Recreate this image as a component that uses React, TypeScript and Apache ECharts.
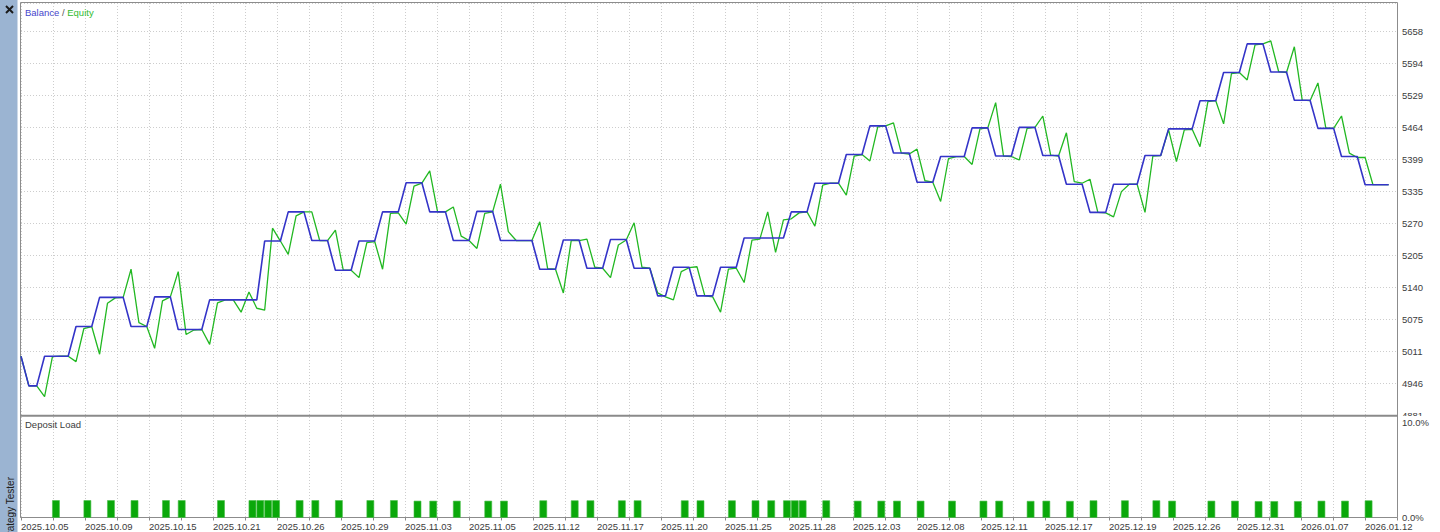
import React, { useEffect, useRef } from "react";
import * as echarts from "echarts";

// ---- tick labels ----
const xLabels = [
  "2025.10.05", "2025.10.09", "2025.10.15", "2025.10.21", "2025.10.26", "2025.10.29",
  "2025.11.03", "2025.11.05", "2025.11.12", "2025.11.17", "2025.11.20", "2025.11.25",
  "2025.11.28", "2025.12.03", "2025.12.08", "2025.12.11", "2025.12.17", "2025.12.19",
  "2025.12.26", "2025.12.31", "2026.01.07", "2026.01.12",
];
const yTickLabels = ["4881", "4946", "5011", "5075", "5140", "5205", "5270", "5335", "5399", "5464", "5529", "5594", "5658"];
const loadTickLabels = ["0.0%", "10.0%"];

// ---- series (one value per deal index) ----
const balance = [
  5000, 4940, 4940, 5000, 5000, 5000, 5000, 5060, 5060, 5060,
  5119, 5119, 5119, 5119, 5060, 5060, 5060, 5120, 5120, 5120,
  5054, 5054, 5054, 5054, 5114, 5114, 5114, 5114, 5114, 5114,
  5114, 5233, 5233, 5233, 5292, 5292, 5292, 5234, 5234, 5234,
  5174, 5174, 5174, 5233, 5233, 5233, 5292, 5292, 5292, 5351,
  5351, 5351, 5292, 5292, 5292, 5234, 5234, 5234, 5293, 5293,
  5293, 5234, 5234, 5234, 5234, 5234, 5176, 5176, 5176, 5235,
  5235, 5235, 5178, 5178, 5178, 5236, 5236, 5236, 5178, 5178,
  5178, 5122, 5122, 5180, 5180, 5180, 5122, 5122, 5122, 5180,
  5180, 5180, 5239, 5239, 5239, 5239, 5239, 5239, 5292, 5292,
  5292, 5350, 5350, 5350, 5350, 5408, 5408, 5408, 5466, 5466,
  5466, 5411, 5411, 5411, 5352, 5352, 5352, 5404, 5404, 5404,
  5404, 5462, 5462, 5462, 5405, 5405, 5405, 5463, 5463, 5463,
  5406, 5406, 5406, 5348, 5348, 5348, 5291, 5291, 5291, 5348,
  5348, 5348, 5348, 5406, 5406, 5406, 5460, 5460, 5460, 5460,
  5517, 5517, 5517, 5574, 5574, 5574, 5632, 5632, 5632, 5575,
  5575, 5575, 5518, 5518, 5518, 5461, 5461, 5461, 5404, 5404,
  5404, 5347, 5347, 5347, 5347,
];
const equity = [
  5000, 4940, 4940, 4918, 4999, 5000, 5000, 4989, 5056, 5060,
  5004, 5107, 5118, 5119, 5176, 5068, 5060, 5016, 5112, 5120,
  5171, 5044, 5053, 5054, 5024, 5108, 5114, 5114, 5089, 5130,
  5097, 5093, 5259, 5233, 5206, 5284, 5292, 5292, 5234, 5234,
  5255, 5174, 5174, 5159, 5230, 5232, 5176, 5289, 5290, 5267,
  5344, 5350, 5375, 5292, 5292, 5302, 5243, 5234, 5218, 5289,
  5292, 5348, 5252, 5234, 5234, 5234, 5272, 5177, 5176, 5128,
  5234, 5234, 5237, 5180, 5178, 5159, 5225, 5235, 5270, 5180,
  5178, 5128, 5120, 5114, 5171, 5179, 5181, 5122, 5120, 5089,
  5176, 5178, 5149, 5235, 5237, 5292, 5210, 5276, 5278, 5290,
  5292, 5263, 5346, 5350, 5350, 5326, 5405, 5408, 5395, 5464,
  5466, 5472, 5411, 5409, 5419, 5355, 5352, 5313, 5400, 5404,
  5404, 5388, 5460, 5462, 5513, 5405, 5404, 5397, 5461, 5463,
  5486, 5407, 5405, 5452, 5353, 5350, 5358, 5291, 5290, 5282,
  5333, 5348, 5348, 5291, 5405, 5406, 5458, 5394, 5458, 5459,
  5424, 5515, 5517, 5470, 5572, 5574, 5559, 5630, 5632, 5638,
  5576, 5574, 5626, 5518, 5517, 5553, 5462, 5461, 5486, 5411,
  5402, 5402, 5347, 5347, 5347,
];
const loadIndex = [
  4, 8, 11, 14, 18, 20, 25, 29, 30, 31, 32, 35, 37, 40, 44, 47,
  50, 52, 55, 59, 61, 66, 70, 72, 76, 78, 84, 86, 90, 93, 95, 97, 98, 99, 102,
  106, 109, 111, 114, 118, 122, 124, 128, 130, 133, 136, 140, 144, 146,
  151, 154, 157, 159, 162, 165, 168, 171,
];
const loadValue = [
  1.78, 1.78, 1.78, 1.78, 1.78, 1.78, 1.78, 1.78, 1.78, 1.78, 1.78, 1.78, 1.78, 1.78, 1.78, 1.78,
  1.72, 1.72, 1.72, 1.72, 1.72, 1.76, 1.76, 1.76, 1.76, 1.76, 1.76, 1.76, 1.76, 1.76, 1.76, 1.76, 1.76, 1.76, 1.76,
  1.72, 1.72, 1.72, 1.72, 1.72, 1.72, 1.72, 1.7, 1.72, 1.7, 1.76, 1.76, 1.76, 1.72,
  1.72, 1.72, 1.68, 1.68, 1.68, 1.72, 1.72, 1.76,
];

// ---- axis ranges ----
const Y_MIN = 4881;
const Y_STEP = 64.75;
const Y_UNITS = 12.875; // plot height in label steps
const Y_MAX = Y_MIN + Y_UNITS * Y_STEP;
const X_MAX = 175.06; // deal-index span of the plot
const X_UNITS = 43; // vertical grid divisions
const LOAD_MAX = 10.53;

const FONT = "'Liberation Sans', Arial, sans-serif";
const TXT = "#3c3c3c";
const GRIDC = "#cdcdcd";
const BLUE = "#3434c8";
const GREEN = "#22b822";
const BAR = "#0aa80a";

export default function App() {
  const ref = useRef<HTMLDivElement | null>(null);

  useEffect(() => {
    if (!ref.current) return;
    const chart = echarts.init(ref.current, undefined, { renderer: "svg" });
    const split = { show: true, lineStyle: { color: GRIDC, width: 1, type: [1, 2] as any } };

    const option: any = {
      animation: false,
      backgroundColor: "#ffffff",
      textStyle: { fontFamily: FONT },
      grid: [
        { left: 21, top: 3, width: 1376, height: 412 },
        { left: 21, top: 417, width: 1376, height: 100.5 },
      ],
      xAxis: [
        { gridIndex: 0, type: "value", min: 0, max: X_MAX, show: false, position: "top" },
        {
          gridIndex: 0, type: "value", min: 0, max: X_UNITS, interval: 1, position: "bottom",
          axisLine: { show: false }, axisTick: { show: false }, axisLabel: { show: false },
          splitLine: split,
        },
        { gridIndex: 1, type: "value", min: 0, max: X_MAX, show: false, position: "top" },
        {
          gridIndex: 1, type: "value", min: 0, max: X_UNITS, interval: 1, position: "bottom",
          axisLine: { show: true, lineStyle: { color: "#8a8a8a", width: 1 } },
          axisTick: { show: true, length: 3, lineStyle: { color: "#8a8a8a" } },
          axisLabel: {
            show: true, margin: 4, align: "left", color: TXT, fontSize: 9.5, fontFamily: FONT,
            formatter: (v: number) => (v % 2 === 0 ? xLabels[v / 2] ?? "" : ""),
          },
          splitLine: split,
        },
      ],
      yAxis: [
        { gridIndex: 0, type: "value", min: Y_MIN, max: Y_MAX, show: false, position: "left" },
        {
          gridIndex: 0, type: "value", min: 0, max: Y_UNITS, interval: 1, position: "right",
          axisLine: { show: false }, axisTick: { show: false },
          axisLabel: {
            margin: 5, color: TXT, fontSize: 9.5, fontFamily: FONT,
            formatter: (v: number) => yTickLabels[v] ?? "",
          },
          splitLine: split,
        },
        {
          gridIndex: 1, type: "value", min: 0, max: LOAD_MAX, interval: 10, position: "right", z: 10,
          axisLine: { show: false }, axisTick: { show: false }, splitLine: { show: false },
          axisLabel: {
            margin: 5, color: TXT, fontSize: 9.5, fontFamily: FONT,
            formatter: (v: number) => loadTickLabels[v / 10] ?? "",
          },
        },
      ],
      graphic: [
        { type: "rect", z: 1, shape: { x: 0, y: 0, width: 17.5, height: 532 }, style: { fill: "#9bb4d2" } },
        { type: "line", z: 2, shape: { x1: 6, y1: 6, x2: 13, y2: 13 }, style: { stroke: "#1a1a1a", lineWidth: 2 } },
        { type: "line", z: 2, shape: { x1: 13, y1: 6, x2: 6, y2: 13 }, style: { stroke: "#1a1a1a", lineWidth: 2 } },
        {
          type: "text", z: 2, x: 10.5, y: 477, rotation: Math.PI / 2,
          style: { text: "Strategy Tester", align: "right", verticalAlign: "middle", fontSize: 10, fontFamily: FONT, fill: "#202020" },
        },
        { type: "rect", z: 1, shape: { x: 20.5, y: 2.5, width: 1377, height: 515 }, style: { fill: "none", stroke: "#8c8c8c", lineWidth: 1 } },
        { type: "rect", z: 6, shape: { x: 21, y: 414.8, width: 1377, height: 2 }, style: { fill: "#8a8a8a" } },
        { type: "rect", z: 5, shape: { x: 1399, y: 416, width: 41, height: 6 }, style: { fill: "#ffffff" } },
        {
          type: "text", z: 6, x: 25, y: 12.5,
          style: {
            text: "{b|Balance}{s| / }{e|Equity}", verticalAlign: "middle", fontSize: 9.5, fontFamily: FONT,
            rich: {
              b: { fill: "#4646cc", color: "#4646cc", fontSize: 9.5, fontFamily: FONT },
              s: { fill: "#555555", color: "#555555", fontSize: 9.5, fontFamily: FONT },
              e: { fill: "#30bb30", color: "#30bb30", fontSize: 9.5, fontFamily: FONT },
            },
          },
        },
        {
          type: "text", z: 6, x: 25, y: 424.5,
          style: { text: "Deposit Load", verticalAlign: "middle", fontSize: 9.5, fontFamily: FONT, fill: "#3c3c3c" },
        },
      ],
      series: [
        {
          name: "Equity", type: "line", xAxisIndex: 0, yAxisIndex: 0, z: 2,
          data: equity.map((v, i) => [i, v]), symbol: "none", showSymbol: false,
          lineStyle: { color: GREEN, width: 1.3 }, itemStyle: { color: GREEN },
        },
        {
          name: "Balance", type: "line", xAxisIndex: 0, yAxisIndex: 0, z: 3,
          data: balance.map((v, i) => [i, v]), symbol: "none", showSymbol: false,
          lineStyle: { color: BLUE, width: 1.6 }, itemStyle: { color: BLUE },
        },
        {
          name: "Deposit Load", type: "custom", xAxisIndex: 2, yAxisIndex: 2, z: 3,
          data: loadIndex.map((k, i) => [k, loadValue[i]]),
          encode: { x: 0, y: 1 },
          renderItem: (params: any, api: any) => {
            const k = api.value(0);
            const load = api.value(1);
            const p0 = api.coord([k, 0]);
            const p1 = api.coord([k, load]);
            return {
              type: "rect",
              shape: { x: p0[0], y: p1[1], width: 7, height: p0[1] - p1[1] },
              style: { fill: BAR, stroke: "#46bd46", lineWidth: 0.6 },
            };
          },
        },
      ],
    };

    chart.setOption(option);
    return () => chart.dispose();
  }, []);

  return (
    <div
      ref={ref}
      style={{ position: "fixed", left: 0, top: 0, width: 1440, height: 532, background: "#ffffff" }}
    />
  );
}
